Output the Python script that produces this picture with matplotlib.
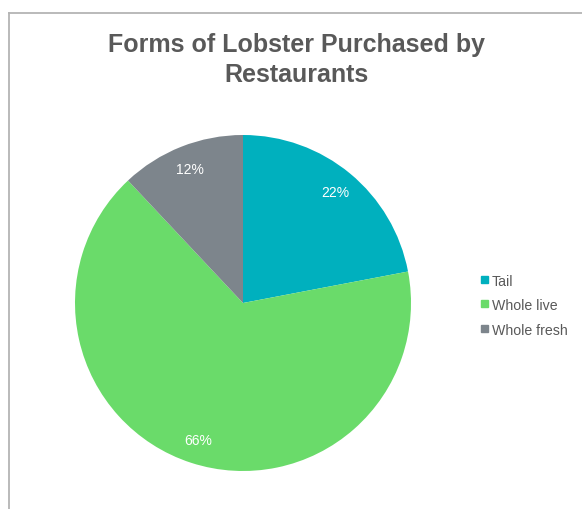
import matplotlib.pyplot as plt
from matplotlib.lines import Line2D
from matplotlib.patches import Rectangle

plt.rcParams['font.family'] = ['Liberation Sans', 'DejaVu Sans']

categories = ['Tail', 'Whole live', 'Whole fresh']
shares = [22, 66, 12]
colors = ['#00B0BE', '#6ADB6A', '#7D858C']
text_color = '#595959'

W, H = 582, 510
fig = plt.figure(figsize=(W / 100, H / 100), dpi=100)

# chart frame (top and left edges visible)
frame = '#B4B4B4'
fig.add_artist(Line2D([9 / W, 1], [1 - 14 / H, 1 - 14 / H], color=frame, lw=1.3))
fig.add_artist(Line2D([9 / W, 9 / W], [0, 1 - 14 / H], color=frame, lw=1.3))

cx, cy, r = 243, 304, 168
ax = fig.add_axes([(cx - r) / W, (H - cy - r) / H, 2 * r / W, 2 * r / H])
wedges, texts, autotexts = ax.pie(
    shares, colors=colors, startangle=90, counterclock=False,
    autopct='%d%%', pctdistance=0.86, radius=1,
    textprops=dict(color='white', fontsize=10))
ax.set_xlim(-1, 1)
ax.set_ylim(-1, 1)
ax.set_aspect('equal')
ax.axis('off')

fig.text(297 / W, 1 - 60 / H, 'Forms of Lobster Purchased by\nRestaurants',
         ha='center', va='center', fontsize=18, fontweight='bold',
         color=text_color, linespacing=1.3)

# legend
ly = [281, 305, 330]
for name, col, y in zip(categories, colors, ly):
    fig.add_artist(Rectangle((481 / W, 1 - (y + 3) / H), 7 / W, 7 / H,
                             color=col, transform=fig.transFigure))
    fig.text(492 / W, 1 - (y + 1) / H, name, ha='left', va='center',
             fontsize=10.2, color=text_color)

fig.savefig('out.png', dpi=100)
